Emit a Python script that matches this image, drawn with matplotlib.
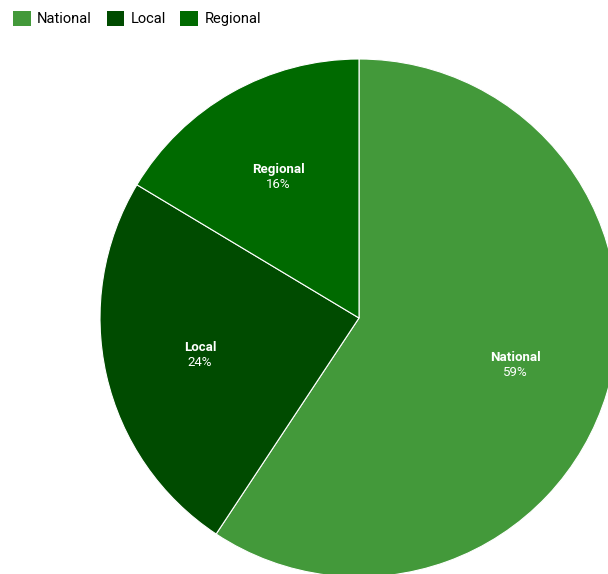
import numpy as np
import matplotlib
matplotlib.use("Agg")
import matplotlib.pyplot as plt
from matplotlib.patches import Patch

# data
labels = ["National", "Local", "Regional"]
values = [59.3, 24.3, 16.4]
pct_text = ["59%", "24%", "16%"]
colors = ["#43993a", "#004b00", "#006a00"]

plt.rcParams['font.family'] = ['Roboto', 'DejaVu Sans']

fig = plt.figure(figsize=(6.08, 5.74), dpi=100)
ax = fig.add_axes([0, 0, 1, 1])

cx, cy, r = 359, 318, 259
# y axis runs downward (pixel frame), so counterclock here looks clockwise
wedges, _ = ax.pie(values, colors=colors, startangle=-90, counterclock=True,
                   center=(cx, cy), radius=r,
                   wedgeprops=dict(edgecolor="white", linewidth=0.8))

ax.set_xlim(0, 608)
ax.set_ylim(574, 0)
ax.set_aspect("equal")
ax.axis("off")

for w, name, pct in zip(wedges, labels, pct_text):
    mid = np.deg2rad((w.theta1 + w.theta2) / 2)
    tx = cx + 0.63 * r * np.cos(mid)
    ty = cy + 0.63 * r * np.sin(mid)
    ax.text(tx, ty - 7, name, color="white", fontsize=9.5, fontweight="bold",
            ha="center", va="center")
    ax.text(tx, ty + 8, pct, color="white", fontsize=9.5,
            ha="center", va="center")

handles = [Patch(facecolor=c, edgecolor="none") for c in colors]
fig.legend(handles, labels, loc="upper left", bbox_to_anchor=(0.0, 1.004),
           ncol=3, frameon=False, fontsize=10.5, handlelength=1.2,
           handleheight=1.2, handletextpad=0.45, columnspacing=1.0)

fig.savefig("out.png", dpi=100)
